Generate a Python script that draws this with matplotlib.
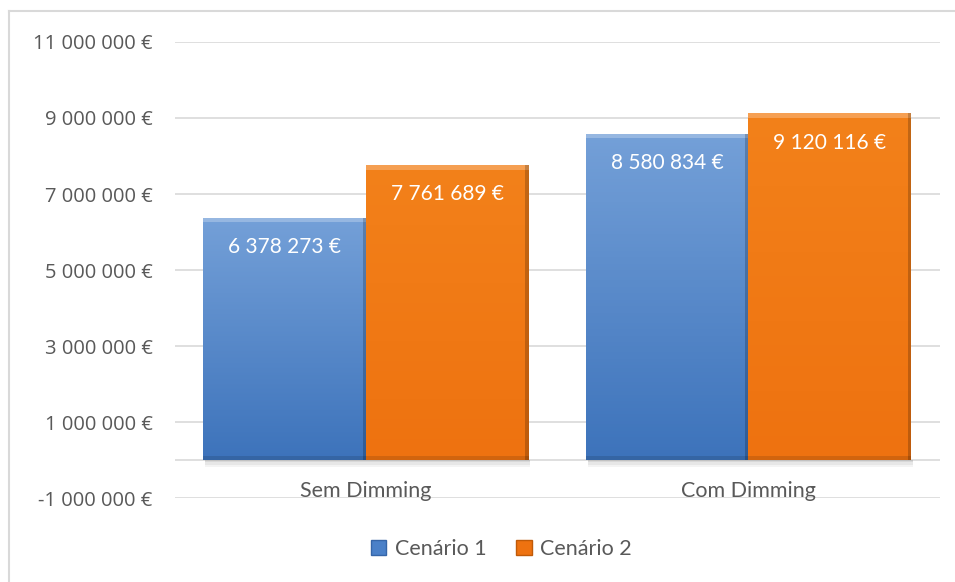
import numpy as np
import matplotlib.pyplot as plt
from matplotlib.patches import Rectangle, Patch
from matplotlib.lines import Line2D
from matplotlib.colors import LinearSegmentedColormap

categories = ['Sem Dimming', 'Com Dimming']
series_names = ['Cenário 1', 'Cenário 2']
cenario1 = [6378273, 8580834]
cenario2 = [7761689, 9120116]
yticks = [-1000000, 1000000, 3000000, 5000000, 7000000, 9000000, 11000000]


def eur(v):
    s = f"{abs(v):,.0f}".replace(',', ' ')
    return ('-' if v < 0 else '') + s + ' €'


fig = plt.figure(figsize=(9.55, 5.82), dpi=100)
ax = fig.add_axes([0.183, 0.144, 0.801, 0.784])

# outer chart border (top and left visible)
fig.add_artist(Line2D([9 / 955, 9 / 955], [0, 1 - 11 / 582], transform=fig.transFigure,
                      color='#d9d9d9', lw=1.5))
fig.add_artist(Line2D([9 / 955, 1], [1 - 11 / 582, 1 - 11 / 582], transform=fig.transFigure,
                      color='#d9d9d9', lw=1.5))

x = np.arange(len(categories))
w = 0.425
colors = [('#74a0d8', '#3d73bb'), ('#f3811a', '#ee7210')]

for vals, off, (ctop, cbot) in [(cenario1, -w / 2, colors[0]), (cenario2, w / 2, colors[1])]:
    bars = ax.bar(x + off, vals, w, color=cbot, zorder=3, edgecolor='none')
    for b, v in zip(bars, vals):
        x0, wd, h = b.get_x(), b.get_width(), b.get_height()
        # soft shadow under bar
        for k, a in enumerate([0.3, 0.18, 0.08]):
            ax.add_patch(Rectangle((x0 + 0.005, -(k + 1) * 60000), wd, 60000,
                                   color='#7f7f7f', alpha=a, zorder=2, lw=0))
        grad = np.linspace(0, 1, 100).reshape(-1, 1)
        cmap = LinearSegmentedColormap.from_list('g', [cbot, ctop])
        im = ax.imshow(grad, extent=(x0, x0 + wd, 0, h), origin='lower', cmap=cmap,
                       aspect='auto', zorder=3.5)
        im.set_clip_path(b)
        # bevel edges
        ax.add_patch(Rectangle((x0, h - 120000), wd, 120000, color='white', alpha=0.25,
                               zorder=4, lw=0))
        ax.add_patch(Rectangle((x0 + wd - 0.008, 0), 0.008, h, color='black', alpha=0.2,
                               zorder=4, lw=0))
        ax.add_patch(Rectangle((x0, 0), wd, 100000, color='black', alpha=0.12,
                               zorder=4, lw=0))
        ax.annotate(eur(v), (x0 + wd / 2, h), xytext=(0, -14), textcoords='offset points',
                    ha='center', va='top', color='white', fontsize=15, family='Lato',
                    zorder=5)

ax.set_xlim(-0.5, 1.5)
ax.set_ylim(-1000000, 11000000)
ax.set_yticks(yticks)
ax.set_yticklabels([eur(v) for v in yticks], fontsize=14.5, color='#595959', family='Open Sans')
ax.yaxis.grid(True, color='#d9d9d9', lw=1.2, zorder=0)
ax.axhline(0, color='#d9d9d9', lw=1.2, zorder=1)
ax.tick_params(axis='y', length=0, pad=16)
ax.set_xticks([])
for sp in ax.spines.values():
    sp.set_visible(False)

for xi, c in zip(x, categories):
    ax.text(xi, -820000, c, ha='center', va='center', fontsize=15.5, color='#595959',
            family='Lato', zorder=5)

handles = [Patch(facecolor='#4a80c8', edgecolor='#3565a8'),
           Patch(facecolor='#ee7210', edgecolor='#c05a08')]
fig.legend(handles, series_names, loc='center', bbox_to_anchor=(0.525, 1 - 549 / 582),
           ncol=2, frameon=False, handlelength=0.7, handleheight=0.7, handletextpad=0.4,
           columnspacing=1.4, prop={'family': 'Lato', 'size': 15.5}, labelcolor='#595959')

fig.savefig('out.png', dpi=100)
